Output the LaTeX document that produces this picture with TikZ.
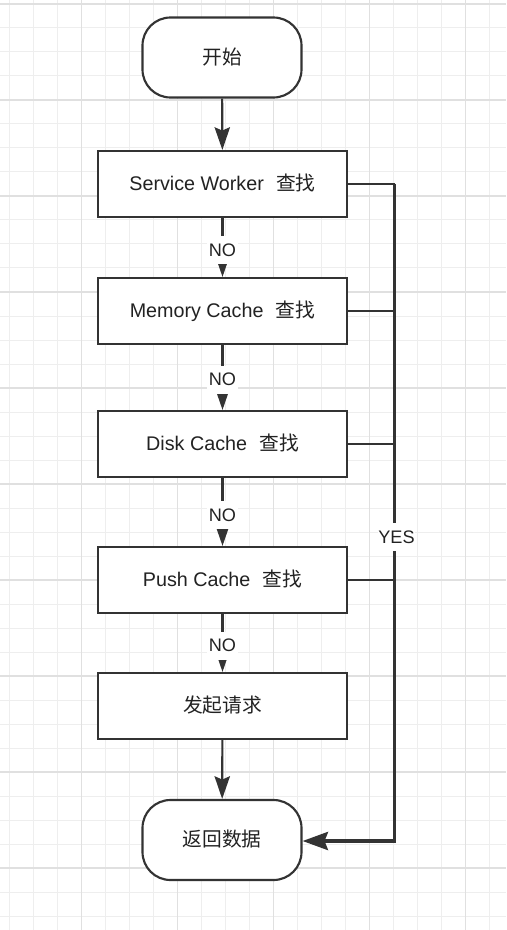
\documentclass[tikz,border=0pt]{standalone}
\usepackage{fontspec}
\setmainfont{Liberation Sans}
\newfontfamily\cjk{Noto Sans CJK SC}
\usetikzlibrary{arrows.meta}
\definecolor{gridminor}{HTML}{EEEEEE}
\definecolor{gridmajor}{HTML}{E0E0E0}
\definecolor{ink}{HTML}{333333}
\definecolor{txt}{HTML}{222222}
\begin{document}
\begin{tikzpicture}[x=0.75pt,y=-0.75pt,
  minorline/.style={draw=gridminor,line width=0.75pt},
  majorline/.style={draw=gridmajor,line width=1pt},
  boxtext/.style={text=txt,font=\fontsize{14.8}{17}\selectfont,text height=1.04em,text depth=0em,inner sep=0pt},
  procbox/.style={boxtext,draw=ink,fill=white,line width=1.6pt,minimum width=186.75pt,minimum height=49.5pt},
  termbox/.style={boxtext,draw=ink,fill=white,line width=1.6pt,minimum width=119.25pt,minimum height=60pt,rounded corners=21pt},
  flow/.style={draw=ink,line width=1.6pt,-{Stealth[length=17pt,width=11.5pt,inset=2.5pt]}},
  stub/.style={draw=ink,line width=1.6pt},
  trunk/.style={draw=ink,line width=2.8pt,-{Stealth[length=19pt,width=13.5pt,inset=2.5pt]}},
  lbl/.style={fill=white,text=txt,font=\fontsize{13.6}{16}\selectfont,text height=0.95em,text depth=0.05em,inner xsep=1.5pt,minimum height=21pt}]
\useasboundingbox (0,0) rectangle (506,930);
\fill[white] (0,0) rectangle (506,930);
% grid
\foreach \x in {9.5,33.5,...,506} \draw[minorline] (\x,0) -- (\x,930);
\foreach \y in {4,28,...,930} \draw[minorline] (0,\y) -- (506,\y);
\foreach \x in {-14.5,81.5,...,506} \draw[majorline] (\x,0) -- (\x,930);
\foreach \y in {4,100,...,930} \draw[majorline] (0,\y) -- (506,\y);
% nodes
\node[termbox] (start) at (222,57.5) {\cjk 开始};
\node[procbox] (sw) at (222.5,184) {Service Worker\hspace{0.62em}{\cjk 查找}};
\node[procbox] (mc) at (222.5,311) {Memory Cache\hspace{0.62em}{\cjk 查找}};
\node[procbox] (dc) at (222.5,444) {Disk Cache\hspace{0.62em}{\cjk 查找}};
\node[procbox] (pc) at (222.5,580) {Push Cache\hspace{0.62em}{\cjk 查找}};
\node[procbox] (req) at (222.5,706) {\cjk 发起请求};
\node[termbox] (ret) at (222,840) {\cjk 返回数据};
% coordinates of the YES bus
\coordinate (bustop) at (394.5,184);
\coordinate (busbot) at (394.5,841);
% main flow
\draw[flow] (start) -- (sw);
\draw[flow] (sw) -- node[lbl,yshift=-2pt]{NO} (mc);
\draw[flow] (mc) -- node[lbl,yshift=-1.5pt]{NO} (dc);
\draw[flow] (dc) -- node[lbl,yshift=-2.5pt]{NO} (pc);
\draw[flow] (pc) -- node[lbl,yshift=-2pt]{NO} (req);
\draw[flow] (req) -- (ret);
% YES branches
\draw[stub] (sw.east) -- (sw.east -| bustop);
\draw[stub] (mc.east) -- (mc.east -| bustop);
\draw[stub] (dc.east) -- (dc.east -| bustop);
\draw[stub] (pc.east) -- (pc.east -| bustop);
\draw[trunk] (bustop) -- node[lbl,pos=0.538,inner xsep=0pt,xshift=1.5pt]{YES} (busbot) -- (busbot -| ret.east);
\end{tikzpicture}
\end{document}
